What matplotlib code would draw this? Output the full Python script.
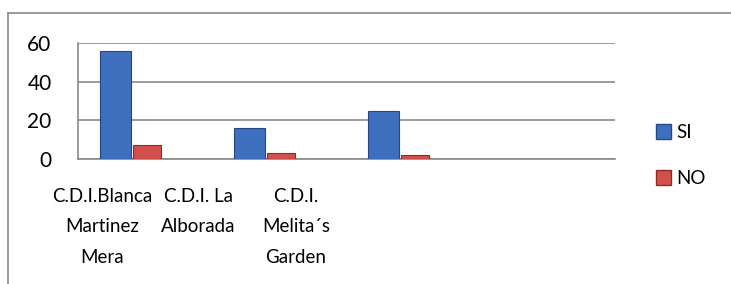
import matplotlib
matplotlib.use("Agg")
import matplotlib.pyplot as plt
import matplotlib.patches as mpatches
from matplotlib.lines import Line2D
import numpy as np

# --- données ---
categorias = ["C.D.I.Blanca\nMartinez\nMera", "C.D.I. La\nAlborada", "C.D.I.\nMelita´s\nGarden"]
si = [56, 16, 25]
no = [7, 3, 2]
yticks = [0, 20, 40, 60]

AZUL = "#3f6fbf"
AZUL_BORDE = "#27487f"
ROJO = "#d2504c"
ROJO_BORDE = "#8e2a28"
GRIS = "#8a8a8a"

plt.rcParams["font.family"] = ["Lato", "DejaVu Sans"]

fig = plt.figure(figsize=(7.31, 2.84), dpi=100)
fig.patch.set_facecolor("white")

# cadre extérieur (coupé à droite et en bas)
fig.add_artist(Line2D([8 / 731, 8 / 731], [0, 1 - 13 / 284], color=GRIS, lw=1.2))
fig.add_artist(Line2D([8 / 731, 1], [1 - 13 / 284, 1 - 13 / 284], color=GRIS, lw=1.2))

ax = fig.add_axes([78 / 731, 1 - 159 / 284, (615 - 78) / 731, (159 - 43) / 284])

x = np.arange(len(categorias))
w = 0.235
ax.bar(x - w / 2, si, width=w, color=AZUL, edgecolor=AZUL_BORDE, linewidth=0.8, zorder=3)
ax.bar(x + w / 2, no, width=w * 0.9, color=ROJO, edgecolor=ROJO_BORDE, linewidth=0.8, zorder=3)

ax.set_xlim(-0.396, 3.61)
ax.set_ylim(0, 60)
ax.set_yticks(yticks)
ax.yaxis.grid(True, color=GRIS, lw=1.2, zorder=0)
ax.tick_params(axis="y", length=0, pad=19, labelsize=15)

# étiquettes de catégories (décalées comme dans l'original)
ax.set_xticks([-0.216, 0.5, 1.23])
ax.set_xticklabels(categorias, fontsize=13.5, linespacing=1.95)
ax.tick_params(axis="x", length=0, pad=21)

for s in ["top", "right"]:
    ax.spines[s].set_visible(False)
ax.spines["left"].set_color(GRIS)
ax.spines["bottom"].set_color(GRIS)
ax.spines["left"].set_linewidth(1.2)
ax.spines["bottom"].set_linewidth(1.2)

handles = [mpatches.Patch(facecolor=AZUL, edgecolor=AZUL_BORDE, label="SI"),
           mpatches.Patch(facecolor=ROJO, edgecolor=ROJO_BORDE, label="NO")]
fig.legend(handles=handles, loc="center left", bbox_to_anchor=(639 / 731, 1 - 155.5 / 284),
           frameon=False, fontsize=13.5, handlelength=0.8, handleheight=0.8,
           handletextpad=0.3, labelspacing=1.55)

fig.savefig("out.png", dpi=100)
